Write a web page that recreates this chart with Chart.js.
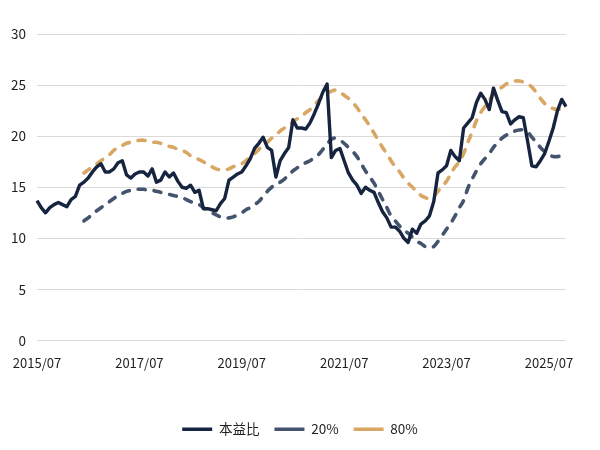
<!DOCTYPE html>
<html>
<head>
<meta charset="utf-8">
<script src="https://cdn.jsdelivr.net/npm/chart.js@4"></script>
<style>
  html, body { margin: 0; padding: 0; background: #fff; }
  #wrap { width: 600px; height: 450px; }
</style>
</head>
<body>
<div id="wrap"><canvas id="pe-chart"></canvas></div>
<script>
// Monthly categories, 2015/07 .. 2025/11
const startYear = 2015;
const startMonth = 7;
const monthCount = 125;
const tickLabels = ['2015/07', '2017/07', '2019/07', '2021/07', '2023/07', '2025/07'];

// 本益比 (monthly)
const peRatio = [
    13.7, 13.0, 12.5, 13.0, 13.3, 13.5, 13.3, 13.1, 13.8, 14.1,
    15.2, 15.5, 15.9, 16.5, 17.0, 17.3, 16.5, 16.5, 16.8, 17.4,
    17.6, 16.2, 15.9, 16.3, 16.5, 16.5, 16.1, 16.8, 15.5, 15.7,
    16.5, 16.0, 16.4, 15.6, 15.0, 14.9, 15.2, 14.5, 14.7, 12.9,
    12.9, 12.8, 12.7, 13.4, 13.9, 15.7, 16.0, 16.3, 16.5, 17.1,
    17.8, 18.8, 19.3, 19.9, 18.9, 18.6, 16.0, 17.6, 18.3, 18.9,
    21.6, 20.8, 20.8, 20.7, 21.3, 22.2, 23.2, 24.3, 25.1, 17.9,
    18.6, 18.8, 17.6, 16.4, 15.7, 15.2, 14.4, 15.0, 14.7, 14.5,
    13.5, 12.6, 12.0, 11.1, 11.1, 10.7, 10.0, 9.6, 10.9, 10.5,
    11.4, 11.7, 12.2, 13.6, 16.4, 16.7, 17.1, 18.6, 18.0, 17.6,
    20.8, 21.3, 21.8, 23.3, 24.2, 23.6, 22.6, 24.7, 23.5, 22.4,
    22.3, 21.2, 21.6, 21.9, 21.8, 19.5, 17.1, 17.0, 17.6, 18.3,
    19.5, 20.8, 22.5, 23.6, 22.9
];

// 20% band (starts 2016/06)
const pct20 = [
    null, null, null, null, null, null, null, null, null, null, null,
    11.7, 12.0, 12.4, 12.7, 13.0, 13.3, 13.6, 13.9, 14.2,
    14.4, 14.6, 14.7, 14.8, 14.8, 14.8, 14.7, 14.7, 14.6, 14.5,
    14.4, 14.3, 14.2, 14.1, 14.0, 13.8, 13.6, 13.4, 13.3, 13.0,
    12.8, 12.5, 12.3, 12.1, 12.0, 12.0, 12.1, 12.3, 12.5, 12.8,
    13.0, 13.3, 13.6, 14.1, 14.6, 15.0, 15.3, 15.5, 15.8, 16.2,
    16.6, 16.9, 17.2, 17.4, 17.6, 17.9, 18.2, 18.7, 19.2, 19.7,
    19.8, 19.6, 19.3, 18.9, 18.5, 18.0, 17.3, 16.6, 16.0, 15.4,
    14.6, 13.8, 13.0, 12.2, 11.7, 11.2, 10.8, 10.5, 10.1, 9.7,
    9.5, 9.2, 9.1, 9.2, 9.7, 10.3, 10.9, 11.5, 12.2, 13.0,
    13.7, 14.9, 15.8, 16.6, 17.3, 17.8, 18.3, 18.9, 19.4, 19.8,
    20.1, 20.3, 20.5, 20.6, 20.6, 20.4, 19.9, 19.4, 18.9, 18.5,
    18.2, 18.0, 18.0, 18.1, 18.2
];

// 80% band (starts 2016/06)
const pct80 = [
    null, null, null, null, null, null, null, null, null, null, null,
    16.4, 16.7, 17.0, 17.3, 17.6, 17.9, 18.2, 18.6, 18.9,
    19.1, 19.3, 19.4, 19.5, 19.6, 19.6, 19.5, 19.4, 19.4, 19.3,
    19.2, 19.0, 18.9, 18.7, 18.6, 18.4, 18.1, 17.9, 17.7, 17.5,
    17.2, 17.0, 16.8, 16.7, 16.7, 16.8, 17.0, 17.1, 17.3, 17.6,
    18.0, 18.3, 18.7, 19.1, 19.4, 19.8, 20.1, 20.5, 20.8, 21.1,
    21.4, 21.7, 21.9, 22.3, 22.6, 23.0, 23.5, 23.9, 24.2, 24.4,
    24.5, 24.3, 24.0, 23.7, 23.3, 22.8, 22.2, 21.6, 21.0, 20.3,
    19.6, 18.9, 18.3, 17.6, 17.0, 16.5, 15.9, 15.4, 15.0, 14.6,
    14.2, 14.0, 13.9, 14.1, 14.6, 15.1, 15.6, 16.3, 17.0, 17.5,
    18.3, 19.4, 20.4, 21.5, 22.3, 22.9, 23.5, 24.1, 24.5, 24.8,
    25.1, 25.3, 25.4, 25.4, 25.3, 25.1, 24.8, 24.3, 23.7, 23.2,
    22.9, 22.7, 22.6, 22.7, 22.8
];

const textColor = '#1f1f1f';
const fontFamily = "'Noto Sans CJK TC', 'Noto Sans', sans-serif";

// Build 'YYYY/MM' labels
function buildLabels() {
    const labels = [];
    for (let i = 0; i < monthCount; i++) {
        const m = startMonth - 1 + i;
        const y = startYear + Math.floor(m / 12);
        const mm = (m % 12) + 1;
        labels.push(y + '/' + String(mm).padStart(2, '0'));
    }
    return labels;
}

function createChart() {
    const ctx = document.getElementById('pe-chart').getContext('2d');
    new Chart(ctx, {
        type: 'line',
        data: {
            labels: buildLabels(),
            datasets: [{
                label: '本益比',
                data: peRatio,
                borderColor: '#172440',
                borderWidth: 3.4,
                tension: 0,
                borderJoinStyle: 'round'
            }, {
                label: '20%',
                data: pct20,
                borderColor: '#44546e',
                borderWidth: 3.6,
                borderDash: [7, 9],
                borderCapStyle: 'round',
                tension: 0.4
            }, {
                label: '80%',
                data: pct80,
                borderColor: '#d8a764',
                borderWidth: 3.6,
                borderDash: [7, 9],
                borderCapStyle: 'round',
                tension: 0.4
            }]
        },
        options: {
            responsive: true,
            maintainAspectRatio: false,
            animation: false,
            layout: { padding: { left: 0, right: 0, top: 34, bottom: 4 } },
            elements: { point: { radius: 0 } },
            scales: {
                x: {
                    grid: { display: false },
                    border: { display: false },
                    ticks: {
                        autoSkip: false,
                        maxRotation: 0,
                        padding: 7,
                        color: textColor,
                        font: { family: fontFamily, size: 13 },
                        callback: function(value) {
                            const lab = this.getLabelForValue(value);
                            return tickLabels.includes(lab) ? lab : null;
                        }
                    },
                    afterFit: (scale) => { scale.height = 67; }
                },
                y: {
                    min: 0,
                    max: 30,
                    grid: { color: '#d9d9d9', lineWidth: 1, drawTicks: false },
                    border: { display: false },
                    ticks: {
                        stepSize: 5,
                        padding: 11,
                        color: textColor,
                        font: { family: fontFamily, size: 13.5 }
                    }
                },
                // empty right axis, only keeps space on the right side
                yRight: {
                    position: 'right',
                    grid: { display: false },
                    border: { display: false },
                    ticks: { display: false },
                    afterFit: (scale) => { scale.width = 34; }
                }
            },
            plugins: {
                legend: {
                    position: 'bottom',
                    labels: {
                        usePointStyle: true,
                        pointStyleWidth: 30,
                        boxWidth: 30,
                        padding: 15,
                        color: textColor,
                        font: { family: fontFamily, size: 13.5 },
                        generateLabels: function(chart) {
                            const items = Chart.defaults.plugins.legend.labels.generateLabels(chart);
                            items.forEach(item => { item.pointStyle = 'line'; });
                            return items;
                        }
                    }
                },
                tooltip: { enabled: false }
            }
        }
    });
}

document.addEventListener('DOMContentLoaded', createChart);
</script>
</body>
</html>
